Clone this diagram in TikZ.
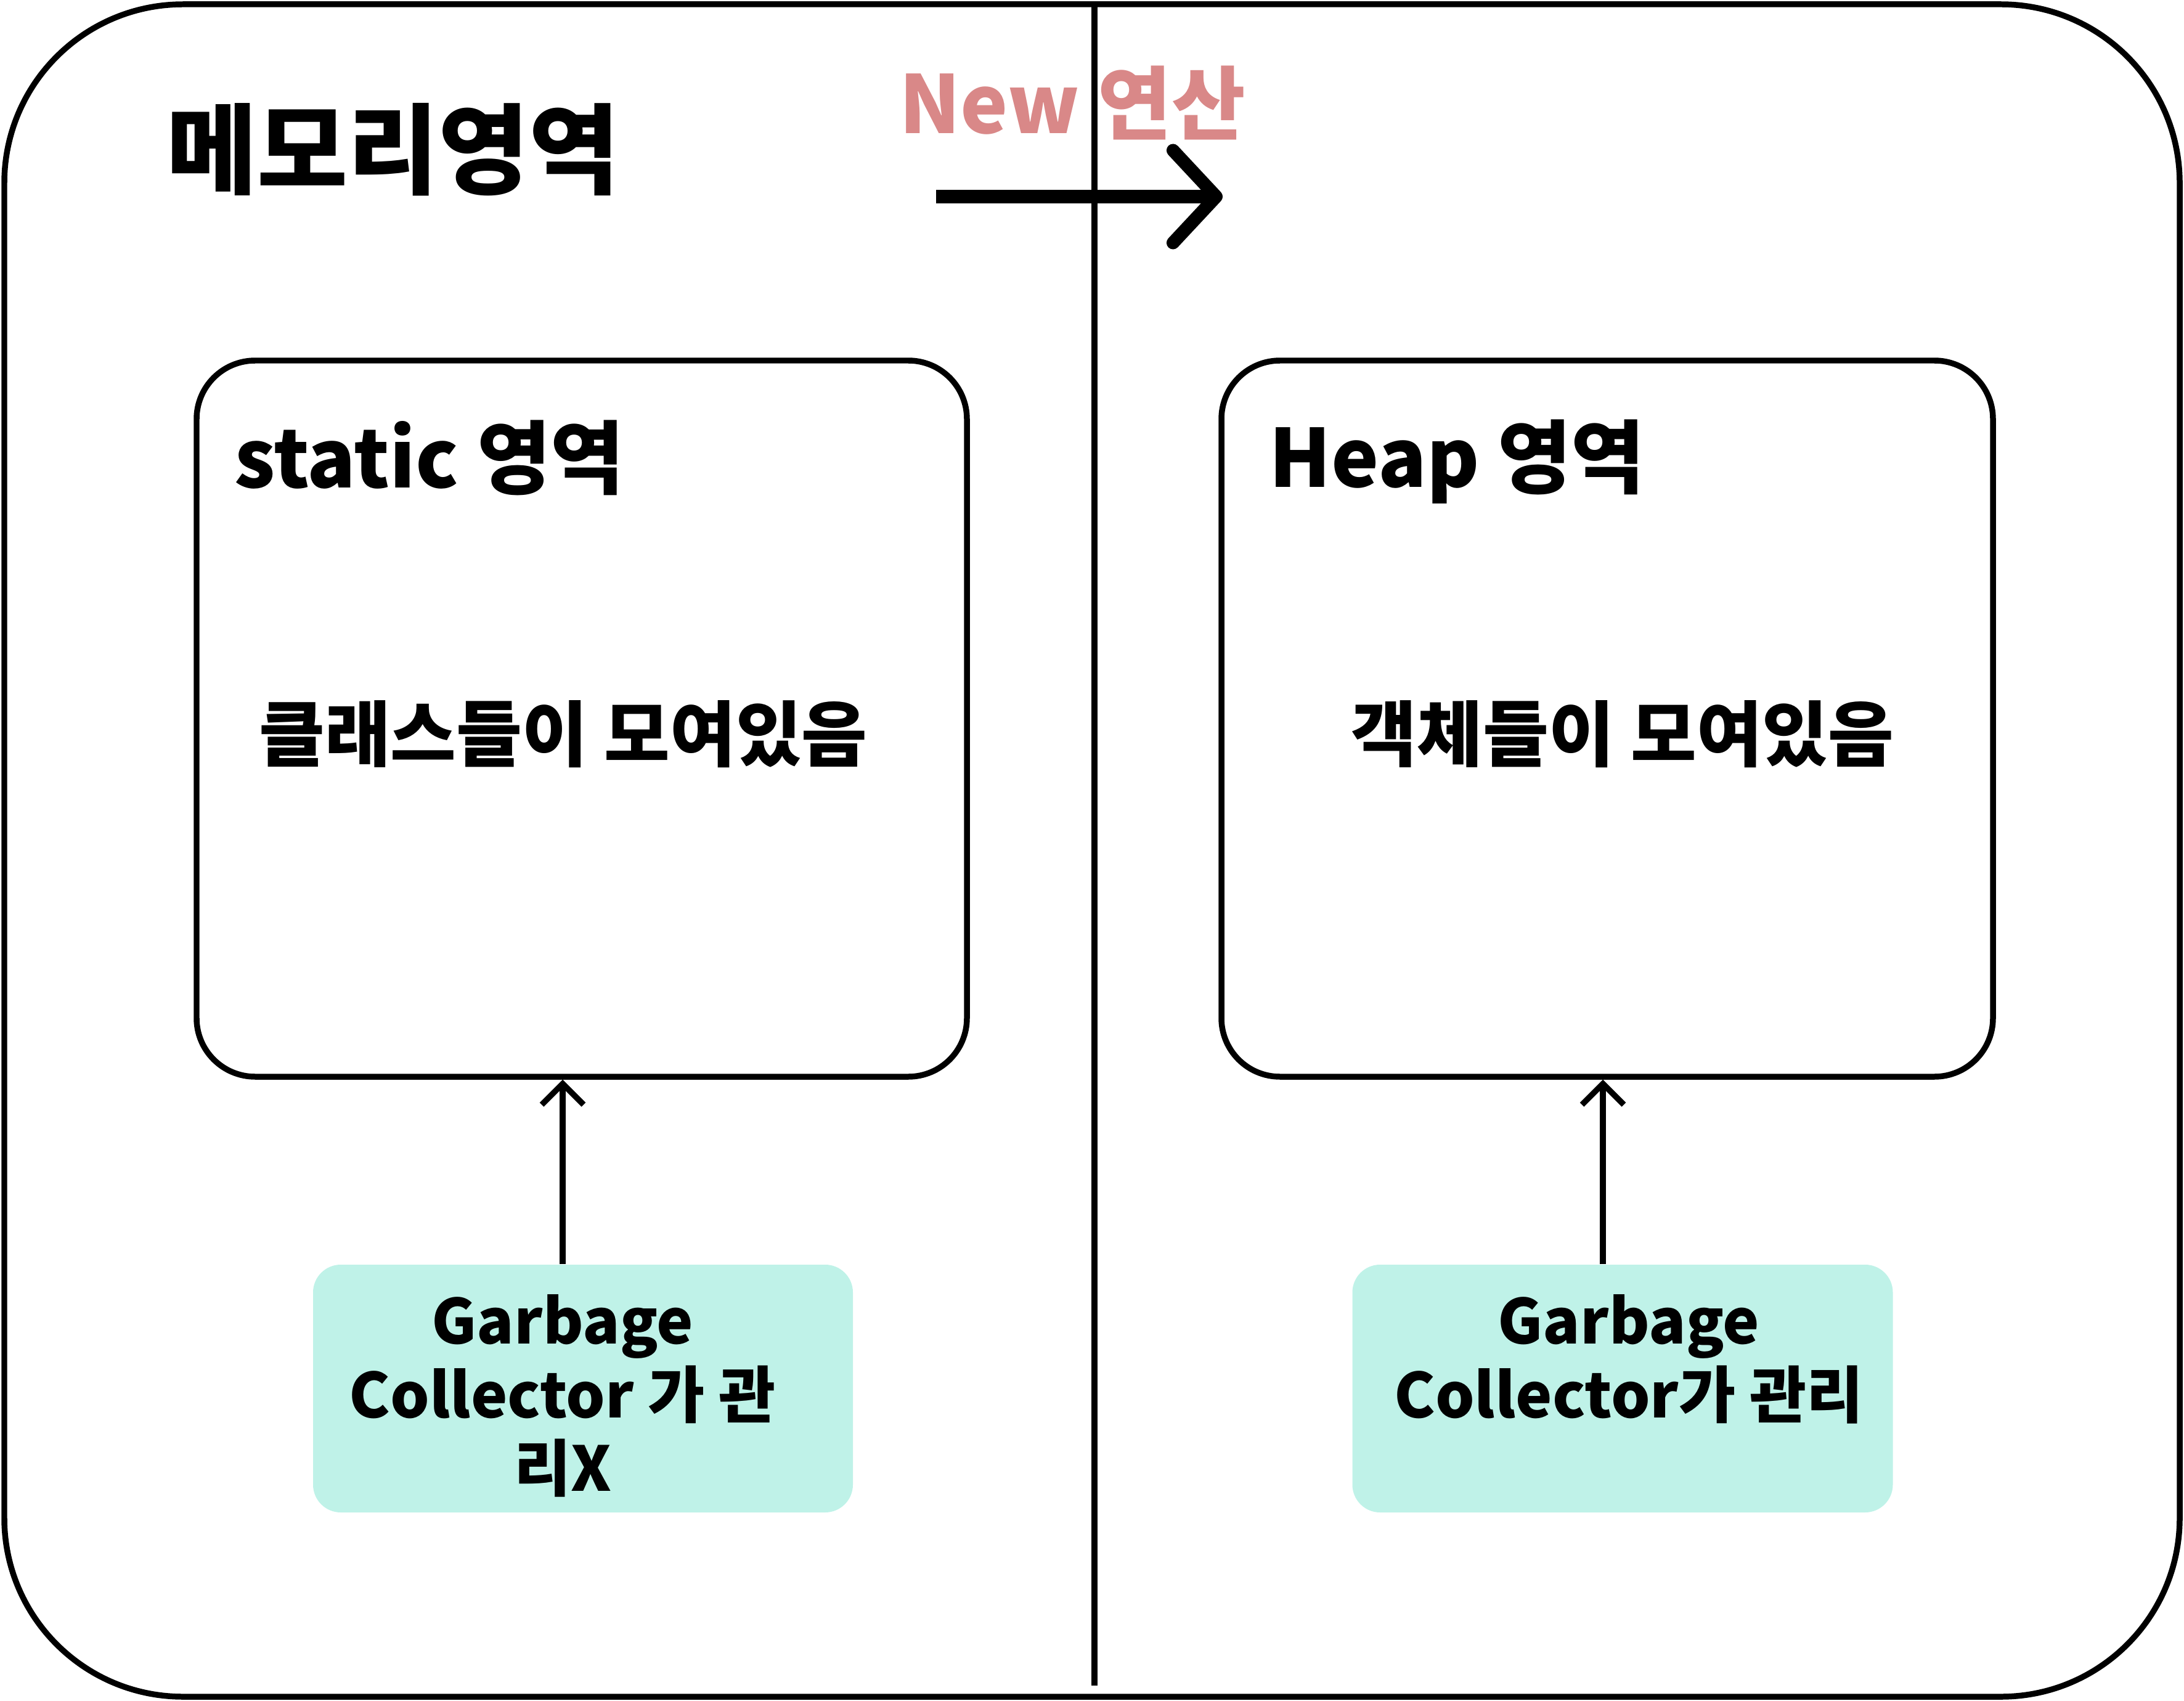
\documentclass[tikz,border=0pt]{standalone}
\usepackage{fontspec}
\setmainfont{Noto Sans CJK KR}
\usepackage{xcolor}
\usetikzlibrary{arrows.meta,positioning}
\definecolor{newpink}{HTML}{D98888}
\definecolor{gcgreen}{HTML}{BFF2E8}

\begin{document}
\begin{tikzpicture}[
  area/.style={draw, line width=2.7pt, rounded corners=0.95cm, minimum width=12.5cm, minimum height=11.62cm},
  gc/.style={fill=gcgreen, rounded corners=0.45cm, minimum width=8.76cm, minimum height=4.02cm},
  gctext/.style={align=center, inner sep=0pt, font=\fontsize{28.5}{34}\selectfont\bfseries},
  head/.style={inner sep=0pt, font=\fontsize{37}{44}\selectfont\bfseries},
  body/.style={inner sep=0pt, font=\fontsize{33}{40}\selectfont\bfseries},
  arr/.style={-{Straight Barb[length=3.4mm, width=6.8mm]}, line width=2.7pt}
]
  \useasboundingbox (0,0) rectangle (35.44,-27.6);

  \node[draw, line width=2.7pt, rounded corners=2.9cm, minimum width=35.3cm, minimum height=27.46cm] (mem) at (17.72,-13.8) {};
  \node[inner sep=0pt, font=\fontsize{45.5}{54}\selectfont\bfseries] (title) at (6.38,-2.43) {메모리영역};

  \coordinate (divtop) at (17.76,-0.07);
  \coordinate (divbot) at (17.76,-27.35);
  \draw[line width=2.7pt] (divtop) -- (divbot);

  \node[inner sep=0pt, text=newpink, font=\fontsize{37}{44}\selectfont\bfseries] (newop) at (17.40,-1.67) {New 연산};
  \coordinate (newL) at (15.19,-3.19);
  \coordinate (newR) at (19.84,-3.19);
  \draw[line width=6pt, -{Straight Barb[length=7mm, width=15mm, round]}] (newL) -- (newR);

  \node[area] (static) at (9.44,-11.66) {};
  \node[area, minimum width=12.52cm] (heap) at (26.08,-11.66) {};

  \node[head, anchor=west] (stitle) at (3.80,-7.43) {static 영역};
  \node[head, anchor=west] (htitle) at (20.59,-7.49) {Heap 영역};

  \node[body] (stext) at (9.14,-11.91) {클래스들이 모여있음};
  \node[body] (htext) at (26.33,-11.91) {객체들이 모여있음};

  \node[gc] (gcL) at (9.46,-22.53) {};
  \node[gc, minimum width=8.77cm] (gcR) at (26.33,-22.53) {};
  \node[gctext, anchor=north] (gcLtxt) at (9.13,-21.0) {Garbage\\Collector 가 관\\리X};
  \node[gctext, anchor=north] (gcRtxt) at (26.43,-21.0) {Garbage\\Collector가 관리};

  \draw[arr] ([xshift=-3.3mm]gcL.north) -- ([xshift=-3.3mm]gcL.north |- static.south);
  \draw[arr] ([xshift=-3.2mm]gcR.north) -- ([xshift=-3.2mm]gcR.north |- heap.south);
\end{tikzpicture}
\end{document}
